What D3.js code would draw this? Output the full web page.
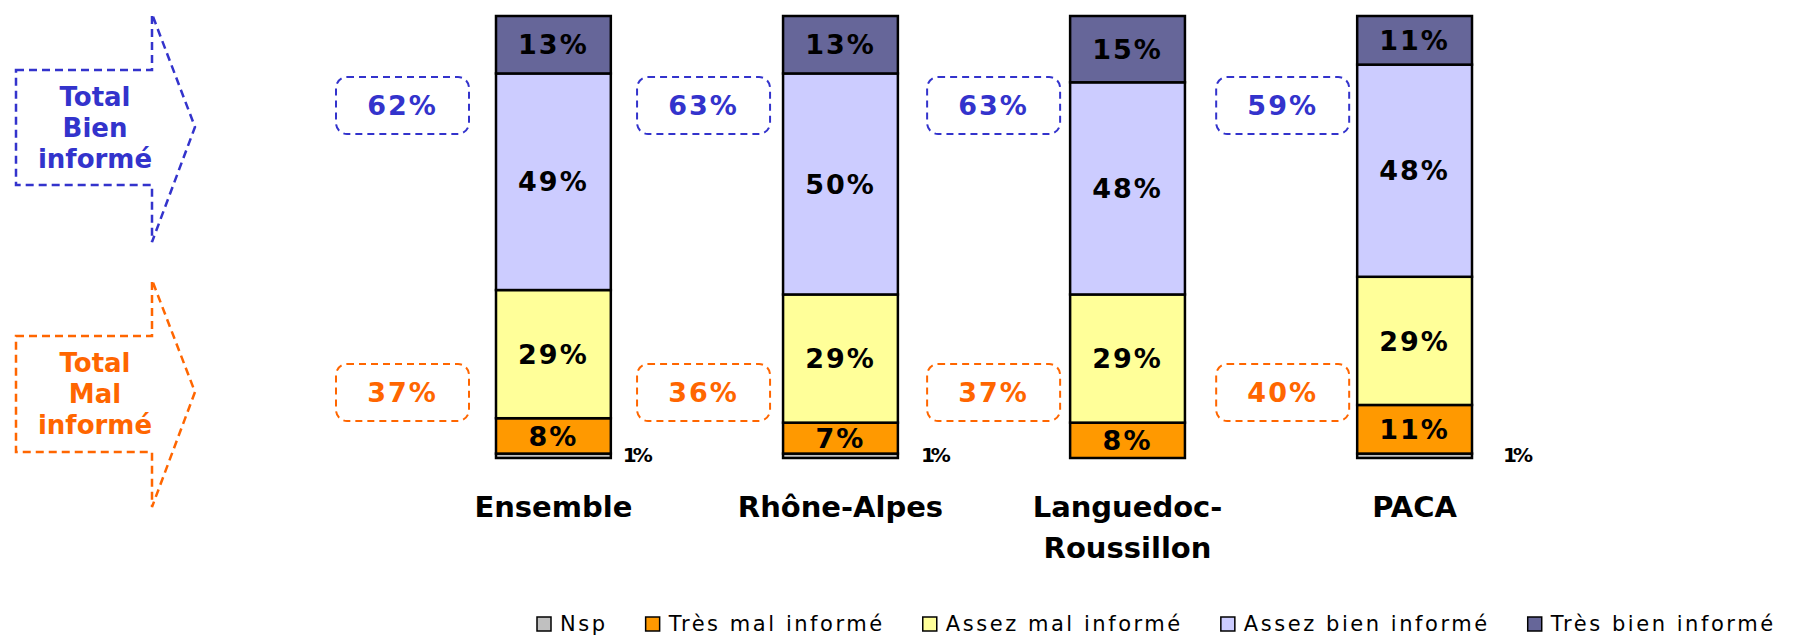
<!DOCTYPE html>
<html>
<head>
<meta charset="utf-8">
<script src="https://cdn.jsdelivr.net/npm/d3@7"></script>
<style>
  body { margin: 0; background: #fff; }
  svg { display: block; font-family: 'DejaVu Sans', Verdana, sans-serif; }
</style>
</head>
<body>
<div id="graf"></div>
<script>
// datos
const categories = ['Ensemble', 'Rhône-Alpes', 'Languedoc-Roussillon', 'PACA']
const series = ['Nsp', 'Très mal informé', 'Assez mal informé', 'Assez bien informé', 'Très bien informé']
const nsp = [1, 1, 0, 1]
const tresMal = [8, 7, 8, 11]
const assezMal = [29, 29, 29, 29]
const assezBien = [49, 50, 48, 48]
const tresBien = [13, 13, 15, 11]
const totalBien = [62, 63, 63, 59]
const totalMal = [37, 36, 37, 40]
const colors = ['#c0c0c0', '#ff9900', '#ffff99', '#ccccff', '#666699']

const blue = '#3333cc'
const orange = '#ff6600'

// tabla para d3.stack
const table = categories.map((c, i) => ({
  cat: c,
  [series[0]]: nsp[i],
  [series[1]]: tresMal[i],
  [series[2]]: assezMal[i],
  [series[3]]: assezBien[i],
  [series[4]]: tresBien[i]
}))

const W = 1796, H = 636

const svg = d3.select('#graf').append('svg')
  .attr('width', W)
  .attr('height', H)

// escalas
const x = d3.scaleBand()
  .domain(categories)
  .range([496, 1472])
  .paddingInner(0.6)
  .paddingOuter(0)

const y = d3.scaleLinear()
  .domain([0, 100])
  .range([458, 16])

const color = d3.scaleOrdinal()
  .domain(series)
  .range(colors)

const stacked = d3.stack().keys(series)(table)

// barras apiladas
const layers = svg.append('g')
  .selectAll('g')
  .data(stacked)
  .join('g')
    .attr('fill', d => color(d.key))

layers.selectAll('rect')
  .data(d => d.filter(p => p[1] - p[0] > 0))
  .join('rect')
    .attr('x', d => x(d.data.cat))
    .attr('y', d => y(d[1]))
    .attr('width', x.bandwidth())
    .attr('height', d => y(d[0]) - y(d[1]))
    .attr('stroke', '#000')
    .attr('stroke-width', 2.5)

// etiquetas de segmentos
stacked.forEach(layer => {
  if (layer.key === 'Nsp') return
  svg.append('g').selectAll('text')
    .data(layer)
    .join('text')
      .attr('x', d => x(d.data.cat) + x.bandwidth() / 2)
      .attr('y', d => (y(d[0]) + y(d[1])) / 2)
      .attr('dy', '0.36em')
      .attr('text-anchor', 'middle')
      .attr('font-size', 27)
      .attr('font-weight', 'bold')
      .attr('letter-spacing', 2)
      .text(d => (d[1] - d[0]) + '%')
})

// etiqueta Nsp (fuera de la barra)
const nspDx = [12, 23, 0, 31]
svg.append('g').selectAll('text')
  .data(categories.map((c, i) => ({ cat: c, v: nsp[i], i: i })).filter(d => d.v > 0))
  .join('text')
    .attr('x', d => x(d.cat) + x.bandwidth() + nspDx[d.i])
    .attr('y', y(0) + 4)
    .attr('font-size', 20)
    .attr('font-weight', 'bold')
    .attr('letter-spacing', -4)
    .text(d => d.v + '%')

// etiquetas de categorias
const catLabels = svg.append('g').selectAll('text')
  .data(categories)
  .join('text')
    .attr('x', d => x(d) + x.bandwidth() / 2)
    .attr('y', 517)
    .attr('text-anchor', 'middle')
    .attr('font-size', 29)
    .attr('font-weight', 'bold')

catLabels.each(function(d) {
  const lines = d.length > 15 ? [d.slice(0, d.indexOf('-') + 1), d.slice(d.indexOf('-') + 1)] : [d]
  lines.forEach((l, k) => {
    d3.select(this).append('tspan')
      .attr('x', x(d) + x.bandwidth() / 2)
      .attr('dy', k === 0 ? 0 : 41)
      .text(l)
  })
})

// cajas de totales
const boxW = 133
const boxGap = [27, 13, 10, 8]
function totalBoxes(vals, y0, y1, col) {
  const g = svg.append('g').selectAll('g')
    .data(categories.map((c, i) => ({ cat: c, v: vals[i], i: i })))
    .join('g')
  g.append('rect')
    .attr('x', d => x(d.cat) - boxGap[d.i] - boxW)
    .attr('y', y0)
    .attr('width', boxW)
    .attr('height', y1 - y0)
    .attr('rx', 11)
    .attr('fill', 'none')
    .attr('stroke', col)
    .attr('stroke-width', 2)
    .attr('stroke-dasharray', '7,5')
  g.append('text')
    .attr('x', d => x(d.cat) - boxGap[d.i] - boxW / 2)
    .attr('y', (y0 + y1) / 2)
    .attr('dy', '0.36em')
    .attr('text-anchor', 'middle')
    .attr('font-size', 27)
    .attr('font-weight', 'bold')
    .attr('letter-spacing', 2)
    .attr('fill', col)
    .text(d => d.v + '%')
}
totalBoxes(totalBien, 77, 134, blue)
totalBoxes(totalMal, 364, 421, orange)

// flechas de la izquierda
function arrow(top, bodyTop, tip, bodyBot, bot, col, lines, base) {
  const p = d3.path()
  p.moveTo(16, bodyTop)
  p.lineTo(152, bodyTop)
  p.lineTo(152, top)
  p.lineTo(195, tip)
  p.lineTo(152, bot)
  p.lineTo(152, bodyBot)
  p.lineTo(16, bodyBot)
  p.closePath()
  svg.append('path')
    .attr('d', p.toString())
    .attr('fill', 'none')
    .attr('stroke', col)
    .attr('stroke-width', 2.5)
    .attr('stroke-dasharray', '8,5')
  svg.append('g').selectAll('text')
    .data(lines)
    .join('text')
      .attr('x', 95)
      .attr('y', (d, k) => base + k * 31)
      .attr('text-anchor', 'middle')
      .attr('font-size', 26)
      .attr('font-weight', 'bold')
      .attr('fill', col)
      .text(d => d)
}
arrow(14, 70, 127, 185, 242, blue, ['Total', 'Bien', 'informé'], 106)
arrow(280, 336, 392, 452, 507, orange, ['Total', 'Mal', 'informé'], 372)

// leyenda
const legend = svg.append('g')
let lx = 537
series.forEach((s, i) => {
  legend.append('rect')
    .attr('x', lx)
    .attr('y', 617)
    .attr('width', 14)
    .attr('height', 14)
    .attr('fill', color(s))
    .attr('stroke', '#000')
    .attr('stroke-width', 1.5)
  const t = legend.append('text')
    .attr('x', lx + 23)
    .attr('y', 631)
    .attr('font-size', 21)
    .attr('letter-spacing', 2.55)
    .text(s)
  lx += 23 + t.node().getComputedTextLength() + 38
})
</script>
</body>
</html>
